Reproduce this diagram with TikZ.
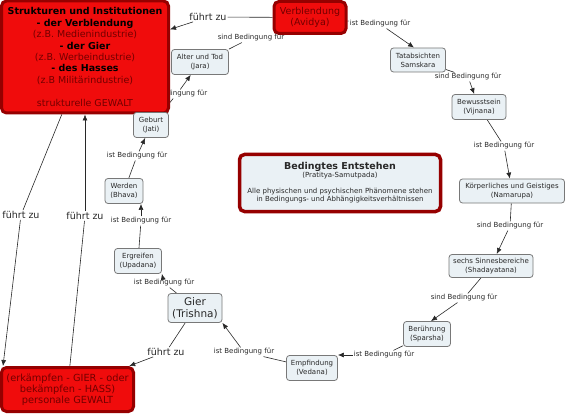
\documentclass[tikz,border=0pt]{standalone}
\usepackage{fontspec}
\setmainfont{DejaVu Sans}
\usepackage{xcolor}
\usepackage{tikz}
\usetikzlibrary{arrows.meta, backgrounds}
\definecolor{gewaltred}{RGB}{240,12,12}
\definecolor{gewaltborder}{RGB}{150,0,0}
\definecolor{gewalttext}{RGB}{115,0,0}
\definecolor{gliedfill}{RGB}{234,241,245}
\definecolor{gliedborder}{RGB}{120,120,120}
\definecolor{gliedtext}{RGB}{40,40,40}

\begin{document}
\begin{tikzpicture}[x=1pt, y=-1pt,
    redbox/.style={draw=gewaltborder, line width=3pt, fill=gewaltred, rounded corners=5pt,
                   align=center, inner sep=0pt, text=gewalttext},
    glied/.style={draw=gliedborder, line width=0.8pt, fill=gliedfill, rounded corners=3pt,
                  align=center, text=gliedtext, font=\fontsize{7}{9}\selectfont, inner sep=2pt},
    bed/.style={font=\fontsize{7}{8}\selectfont, text=gliedtext, inner sep=1pt},
    fz/.style={font=\fontsize{9.5}{11}\selectfont, text=gliedtext, inner sep=1pt},
    link/.style={draw=gliedtext, line width=0.6pt},
    pfeil/.style={link, -{Latex[length=6pt,width=5pt]}}]

\useasboundingbox (0,0) rectangle (567,414);

% Gewalt
\node[redbox, minimum width=167pt, minimum height=112pt, font=\fontsize{9.5}{11.4}\selectfont]
    (strukturen) at (85,57) {%
    \textcolor{black}{\bfseries Strukturen und Institutionen}\\
    \textcolor{black}{\bfseries - der Verblendung}\\
    (z.B. Medienindustrie)\\
    \textcolor{black}{\bfseries - der Gier}\\
    (z.B. Werbeindustrie)\\
    \textcolor{black}{\bfseries - des Hasses}\\
    (z.B Militärindustrie)\\[11.4pt]
    strukturelle GEWALT};
\node[redbox, minimum width=72pt, minimum height=32pt, font=\fontsize{9.5}{11.5}\selectfont]
    (verblendung) at (310,17.5) {Verblendung\\(Avidya)};
\node[redbox, minimum width=132pt, minimum height=44pt, font=\fontsize{9.8}{11}\selectfont]
    (personale) at (67.5,389.5) {(erkämpfen - GIER - oder\\bekämpfen - HASS)\\personale GEWALT};

% Titel
\node[draw=gewaltborder, line width=3.5pt, fill=gliedfill, rounded corners=5pt, align=center,
      text=gliedtext, minimum width=201pt, minimum height=57pt, inner sep=0pt,
      font=\fontsize{7}{8}\selectfont]
    (bedingt) at (340,183) {%
    {\fontsize{9.5}{10}\selectfont\bfseries Bedingtes Entstehen}\\
    (Pratitya-Samutpada)\\[8pt]
    Alle physischen und psychischen Phänomene stehen\\
    in Bedingungs- und Abhängigkeitsverhältnissen};

% Glieder
\node[glied, minimum width=57pt, minimum height=25pt] (altertod) at (200,62) {Alter und Tod\\(Jara)};
\node[glied, minimum width=55pt, minimum height=24pt] (tat) at (418,60) {Tatabsichten\\Samskara};
\node[glied, minimum width=54pt, minimum height=25pt] (bew) at (479,107) {Bewusstsein\\(Vijnana)};
\node[glied, minimum width=105pt, minimum height=24pt] (koerper) at (512,191) {Körperliches und Geistiges\\(Namarupa)};
\node[glied, minimum width=84pt, minimum height=23pt] (sinne) at (491,266) {sechs Sinnesbereiche\\(Shadayatana)};
\node[glied, minimum width=47pt, minimum height=25pt] (ber) at (427,334) {Berührung\\(Sparsha)};
\node[glied, minimum width=51pt, minimum height=25pt] (empf) at (312,368) {Empfindung\\(Vedana)};
\node[glied, minimum width=54pt, minimum height=29pt, font=\fontsize{10.5}{12}\selectfont] (gier) at (195,308) {Gier\\(Trishna)};
\node[glied, minimum width=47pt, minimum height=25pt] (ergreifen) at (138,261) {Ergreifen\\(Upadana)};
\node[glied, minimum width=38pt, minimum height=25pt] (werden) at (124,191) {Werden\\(Bhava)};
\node[glied, minimum width=35pt, minimum height=25pt] (geburt) at (151,125) {Geburt\\(Jati)};

% Verbindungswoerter
\node[fz] (fz1) at (208,17) {führt zu};
\node[bed] (l2) at (251,38) {sind Bedingung für};
\node[bed] (l3) at (380,24) {ist Bedingung für};
\node[bed] (l4) at (468,77) {sind Bedingung für};
\node[bed] (l5) at (504,146) {ist Bedingung für};
\node[bed] (l6) at (510,226) {sind Bedingung für};
\node[bed] (l7) at (464,298) {sind Bedingung für};
\node[bed] (l8) at (384,355) {ist Bedingung für};
\node[bed] (l9) at (244,352) {ist Bedingung für};
\node[fz] (fz3) at (166,352) {führt zu};
\node[bed] (l10) at (164,283) {ist Bedingung für};
\node[bed] (l11) at (141,221) {ist Bedingung für};
\node[bed] (l12) at (137,156) {ist Bedingung für};
\node[fz] (fz4) at (21,215) {führt zu};
\node[fz] (fz5) at (85,216) {führt zu};

\begin{scope}[on background layer]
\node[bed] (l13) at (177,94) {ist Bedingung für};

\draw[link] (verblendung) -- (fz1);
\draw[pfeil] (fz1) -- (strukturen);
\draw[link] (altertod.north east) -- (l2);
\draw[link] (verblendung) -- (l3);
\draw[pfeil] (l3) -- ([xshift=-4pt]tat.north);
\draw[link] (tat) -- (l4);
\draw[pfeil] (l4) -- (bew);
\draw[link] (bew) -- (l5);
\draw[pfeil] (l5) -- (koerper);
\draw[link] (koerper) -- (l6);
\draw[pfeil] (l6) -- (sinne);
\draw[link] (sinne) -- (l7);
\draw[pfeil] (l7) -- ([xshift=4pt]ber.north);
\draw[link] (ber) -- (l8);
\draw[pfeil] (l8) -- (l8 -| empf.east);
\draw[link] (empf) -- (l9);
\draw[pfeil] (l9) -- (gier.south east);
\draw[link] (gier) -- (fz3);
\draw[pfeil] (fz3) -- (personale);
\draw[link] (gier) -- (l10);
\draw[pfeil] (l10) -- (ergreifen.south east);
\draw[link] (ergreifen) -- (l11);
\draw[pfeil] (l11) -- (l11 |- werden.south);
\draw[link] (werden) -- (l12);
\draw[pfeil] (l12) -- (geburt);
\draw[link] (geburt) -- (l13);
\draw[pfeil] (l13) -- (altertod);
\draw[link] (strukturen) -- (fz4);
\draw[pfeil] (fz4) -- ([xshift=3pt]personale.north west);
\draw[link] (personale) -- (fz5);
\draw[pfeil] (fz5) -- (strukturen);
\end{scope}
\end{tikzpicture}
\end{document}
